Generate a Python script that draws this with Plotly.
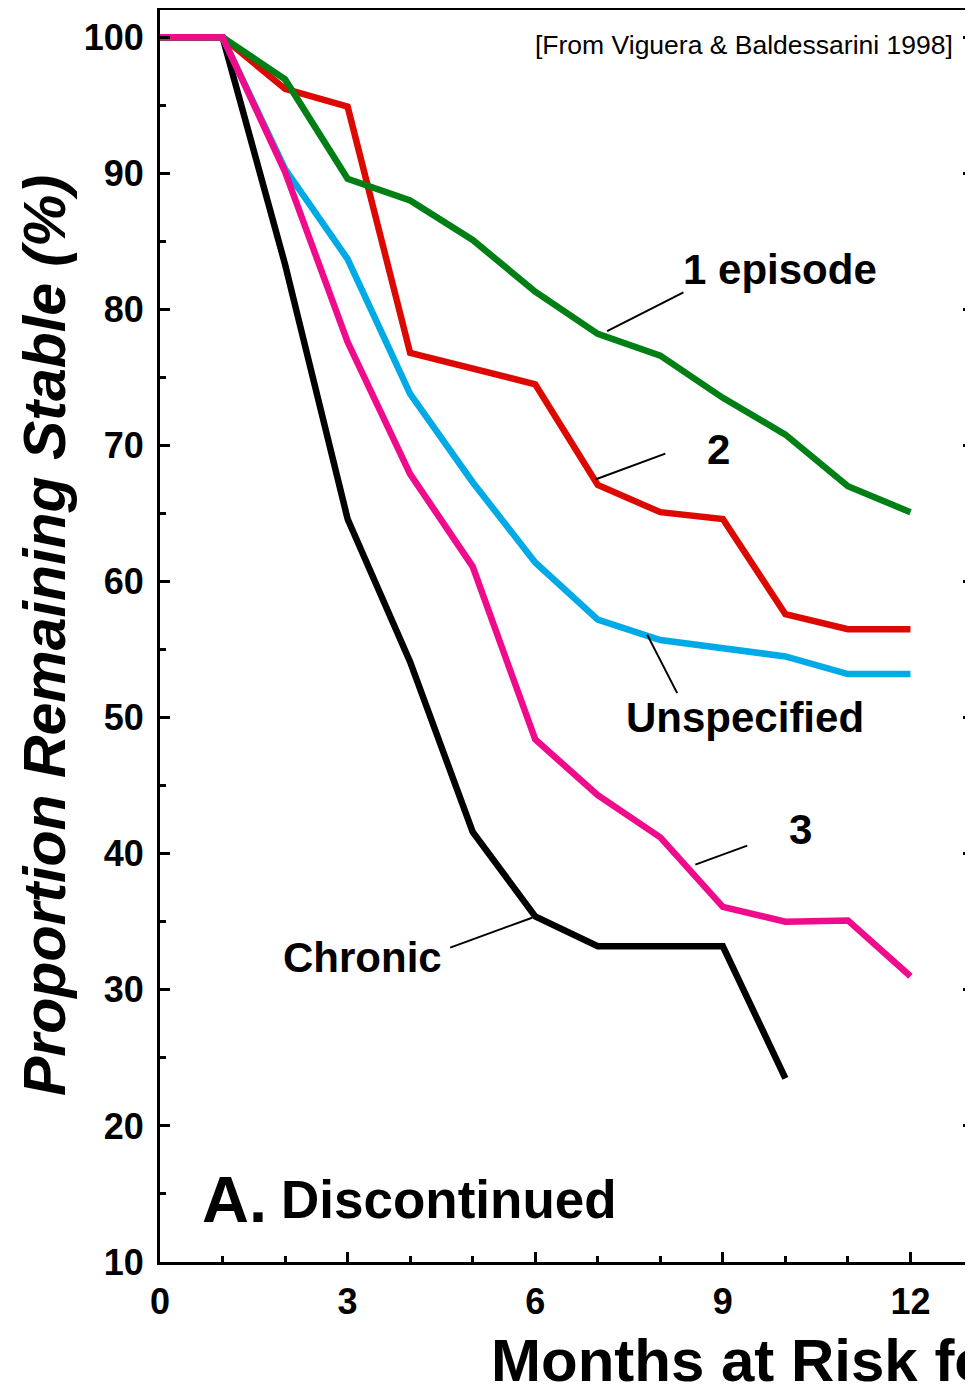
import plotly.graph_objects as go

months = list(range(13))
one_episode = [100, 100, 96.9, 89.6, 88.0, 85.1, 81.3, 78.2, 76.6, 73.5, 70.8, 67.0, 65.1]
two_episodes = [100, 100, 96.2, 94.9, 76.8, 75.7, 74.5, 67.1, 65.1, 64.6, 57.6, 56.5, 56.5]
unspecified = [100, 100, 90.3, 83.7, 73.8, 67.3, 61.4, 57.2, 55.7, 55.1, 54.5, 53.2, 53.2]
three_episodes = [100, 100, 90.1, 77.6, 67.9, 61.1, 48.4, 44.3, 41.2, 36.1, 35.0, 35.1, 31.0]
chronic_months = list(range(11))
chronic = [100, 100, 83.3, 64.6, 54.1, 41.6, 35.4, 33.2, 33.2, 33.2, 23.5]

x_ticks = [0, 3, 6, 9, 12]
y_ticks = [10, 20, 30, 40, 50, 60, 70, 80, 90, 100]

FONT = "Liberation Sans, Arial, sans-serif"

series = [
    ("Chronic", chronic_months, chronic, "#000000"),
    ("Unspecified", months, unspecified, "#00AAE6"),
    ("2", months, two_episodes, "#DD0800"),
    ("1 episode", months, one_episode, "#008014"),
    ("3", months, three_episodes, "#F00A8C"),
]

fig = go.Figure()
for name, xs, ys, col in series:
    fig.add_trace(go.Scatter(x=xs, y=ys, mode="lines", name=name,
                             line=dict(color=col, width=6.5), showlegend=False))

# labels with leader lines: (text, text_x, text_y, line_x0, line_y0, line_x1, line_y1)
labels = [
    ("1 episode", 9.92, 82.9, 7.15, 78.4, 8.37, 81.25),
    ("2", 8.93, 69.7, 6.96, 67.5, 8.08, 69.4),
    ("Unspecified", 9.36, 50.0, 7.79, 56.1, 8.27, 51.8),
    ("3", 10.24, 41.75, 8.56, 39.2, 9.39, 40.6),
    ("Chronic", 3.23, 32.35, 4.64, 33.1, 5.95, 35.3),
]
for txt, tx, ty, x0, y0, x1, y1 in labels:
    fig.add_annotation(x=tx, y=ty, text="<b>%s</b>" % txt, showarrow=False,
                       xref="x", yref="y", xanchor="center", yanchor="middle",
                       font=dict(family=FONT, size=42, color="black"))
    fig.add_shape(type="line", xref="x", yref="y", x0=x0, y0=y0, x1=x1, y1=y1,
                  line=dict(color="black", width=2))

fig.add_annotation(x=0.64, y=14.6, text="<b>A.</b>", showarrow=False, xref="x", yref="y",
                   xanchor="left", yanchor="middle",
                   font=dict(family=FONT, size=65, color="black"))
fig.add_annotation(x=1.9, y=14.6, text="<b>Discontinued</b>", showarrow=False, xref="x", yref="y",
                   xanchor="left", yanchor="middle",
                   font=dict(family=FONT, size=53, color="black"))
fig.add_annotation(x=12.72, y=99.4, text="[From Viguera &amp; Baldessarini 1998]", showarrow=False,
                   xref="x", yref="y", xanchor="right", yanchor="middle",
                   font=dict(family=FONT, size=26.5, color="black"))

# axis titles (paper coords relative to plot area 160..973 x 10..1262 in page pixels)
fig.add_annotation(x=(45 - 160) / 813, y=0.5, xref="paper", yref="paper",
                   text="<b><i>Proportion Remaining Stable (%)</i></b>", textangle=-90,
                   showarrow=False, xanchor="center", yanchor="middle",
                   font=dict(family=FONT, size=59, color="black"))
fig.add_annotation(x=(489 - 160) / 813, y=(1262 - 1360) / 1252, xref="paper", yref="paper",
                   text="<b>Months at Risk for Recurrence</b>",
                   showarrow=False, xanchor="left", yanchor="middle",
                   font=dict(family=FONT, size=60, color="black"))

fig.update_xaxes(range=[0, 13], tickvals=x_ticks, ticktext=[str(v) for v in x_ticks],
                 showline=True, linecolor="black", linewidth=3, mirror=True,
                 ticks="inside", ticklen=10, tickwidth=2.5, tickcolor="black",
                 minor=dict(dtick=1, tick0=0, ticks="inside", ticklen=6, tickwidth=2.5, tickcolor="black"),
                 showgrid=False, zeroline=False, ticklabelstandoff=6,
                 tickfont=dict(family=FONT, size=36, color="black", weight="bold"))
fig.update_yaxes(range=[10, 102], tickvals=y_ticks, ticktext=[str(v) for v in y_ticks],
                 showline=True, linecolor="black", linewidth=3, mirror="ticks",
                 ticks="inside", ticklen=10, tickwidth=2.5, tickcolor="black",
                 minor=dict(dtick=5, tick0=0, ticks="inside", ticklen=6, tickwidth=2.5, tickcolor="black"),
                 showgrid=False, zeroline=False, ticklabelstandoff=6,
                 tickfont=dict(family=FONT, size=36, color="black", weight="bold"))

# page body has an 8px default margin: figure spans page x 8..973, y 8..1386
fig.update_layout(width=965, height=1378, margin=dict(l=152, r=0, t=2, b=124, autoexpand=False),
                  plot_bgcolor="white", paper_bgcolor="white", showlegend=False)

fig.write_html("out.html")
